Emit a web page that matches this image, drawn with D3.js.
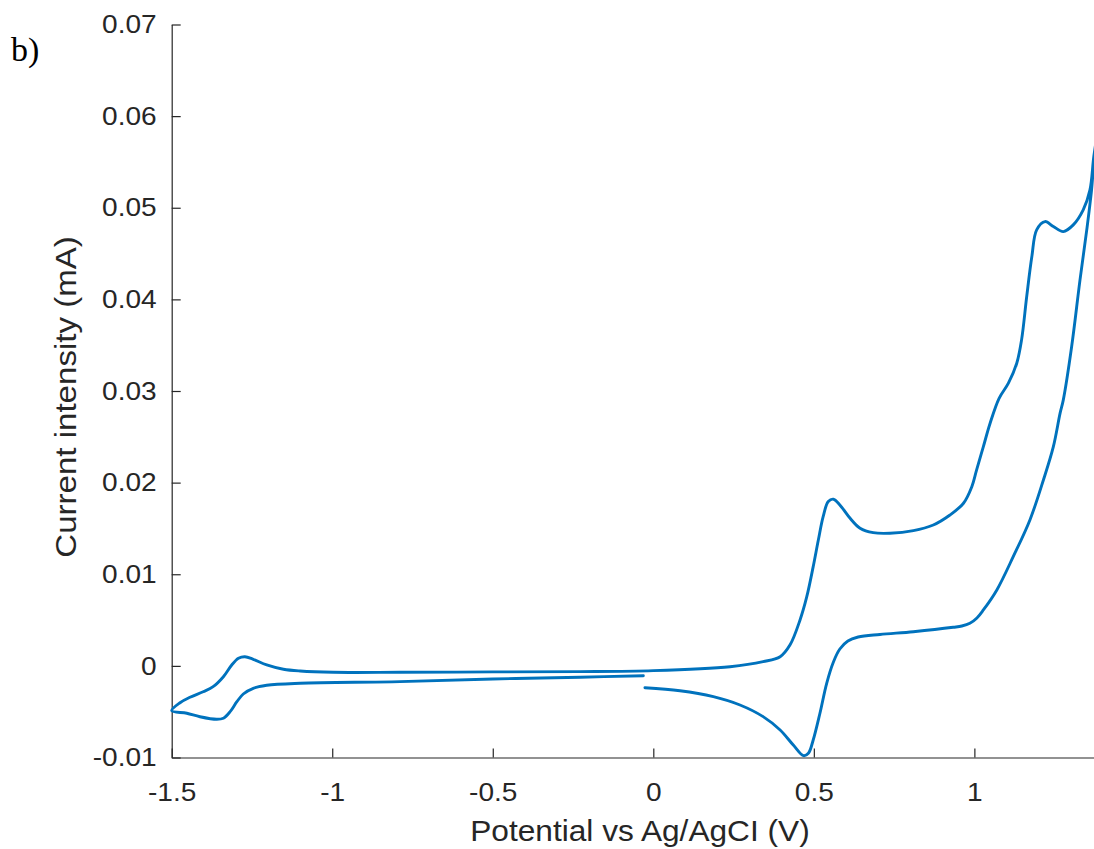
<!DOCTYPE html>
<html>
<head>
<meta charset="utf-8">
<script src="https://cdn.jsdelivr.net/npm/d3@7"></script>
<style>
  html, body { margin: 0; padding: 0; background: #ffffff; }
  svg { display: block; }
  .tick text { font-family: "Liberation Sans", Arial, Helvetica, sans-serif; }
</style>
</head>
<body>
<svg id="chart" width="1094" height="849"></svg>
<script>
// Cyclic voltammogram: potential (V vs Ag/AgCl) and current (mA),
// listed in scan order: start near 0 V, sweep negative to -1.5 V,
// back positive to the upper vertex, then negative again to ~0 V.
const potential = [
  -0.031, -0.228, -0.500, -0.789, -1.100, -1.204, -1.246, -1.277, -1.297,
  -1.318, -1.339, -1.360, -1.412, -1.453, -1.500,
  -1.474, -1.443, -1.402, -1.371, -1.339, -1.313, -1.292, -1.272, -1.246,
  -1.204, -1.152, -1.100, -0.997, -0.789, -0.500, -0.228, 0.000, 0.239,
  0.342, 0.395, 0.426, 0.457, 0.478, 0.498, 0.514, 0.529, 0.545, 0.561,
  0.581, 0.613, 0.644, 0.685, 0.737, 0.810, 0.872, 0.924, 0.966, 0.992,
  1.007, 1.028, 1.049, 1.077, 1.106, 1.132, 1.147, 1.163, 1.179, 1.194,
  1.220, 1.246, 1.277, 1.308, 1.339, 1.360, 1.372, 1.385,
  1.372, 1.365, 1.350, 1.329, 1.303, 1.277, 1.267, 1.246, 1.215, 1.173,
  1.121, 1.070, 1.028, 1.008, 0.986, 0.961, 0.934, 0.810, 0.706, 0.638,
  0.606, 0.581, 0.561, 0.540, 0.519, 0.498, 0.483, 0.468, 0.436, 0.395,
  0.342, 0.270, 0.187, 0.083, -0.026
];
const current = [
  -0.00107, -0.00124, -0.00143, -0.00172, -0.00190, -0.00212, -0.00245, -0.00307, -0.00391,
  -0.00500, -0.00572, -0.00583, -0.00555, -0.00517, -0.00489,
  -0.00402, -0.00343, -0.00282, -0.00227, -0.00118, 0.00010, 0.00083, 0.00100, 0.00072,
  0.00010, -0.00037, -0.00056, -0.00070, -0.00070, -0.00066, -0.00063, -0.00052, -0.00009,
  0.00046, 0.00100, 0.00230, 0.00501, 0.00755, 0.01083, 0.01374, 0.01629, 0.01793, 0.01819,
  0.01757, 0.01611, 0.01502, 0.01454, 0.01448, 0.01476, 0.01538, 0.01647, 0.01775, 0.01956,
  0.02139, 0.02393, 0.02648, 0.02920, 0.03085, 0.03303, 0.03558, 0.04031, 0.04467, 0.04759,
  0.04849, 0.04795, 0.04740, 0.04813, 0.04977, 0.05195, 0.05559, 0.05850,
  0.05489, 0.05195, 0.04758, 0.04213, 0.03485, 0.02903, 0.02758, 0.02393, 0.02029, 0.01593,
  0.01192, 0.00829, 0.00610, 0.00523, 0.00465, 0.00435, 0.00421, 0.00373, 0.00343, 0.00315,
  0.00272, 0.00184, 0.00043, -0.00190, -0.00517, -0.00809, -0.00954, -0.00980, -0.00864, -0.00700,
  -0.00554, -0.00427, -0.00336, -0.00271, -0.00238
];

const xTickValues = [-1.5, -1, -0.5, 0, 0.5, 1];
const xTickLabels = ["-1.5", "-1", "-0.5", "0", "0.5", "1"];
const yTickValues = [-0.01, 0, 0.01, 0.02, 0.03, 0.04, 0.05, 0.06, 0.07];
const yTickLabels = ["-0.01", "0", "0.01", "0.02", "0.03", "0.04", "0.05", "0.06", "0.07"];

const xLabel = "Potential vs Ag/AgCI (V)";
const yLabel = "Current intensity (mA)";
const panelLabel = "b)";

const svg = d3.select("#chart");
const axisColor = "#262626";
const lineColor = "#0072BD";
const sansFont = "'Liberation Sans', Arial, Helvetica, sans-serif";

const plotLeft = 171.7, plotBottom = 757.5, plotTop = 24.5;
const x = d3.scaleLinear().domain([-1.5, 1.4]).range([plotLeft, plotLeft + 2.9 * 321.07]);
const y = d3.scaleLinear().domain([-0.01, 0.07]).range([plotBottom, plotTop]);

// widen a text element horizontally by a factor, keeping its anchor
function widen(sel, k) {
  sel.each(function () {
    const w = this.getComputedTextLength();
    d3.select(this).attr("textLength", w * k).attr("lengthAdjust", "spacingAndGlyphs");
  });
}

// x axis (ticks pointing inward)
const gx = svg.append("g")
  .attr("transform", `translate(0,${plotBottom})`)
  .call(d3.axisBottom(x)
    .tickValues(xTickValues)
    .tickFormat((d, i) => xTickLabels[i])
    .tickSizeInner(-9)
    .tickSizeOuter(0)
    .tickPadding(25));

// y axis
const gy = svg.append("g")
  .attr("transform", `translate(${plotLeft},0)`)
  .call(d3.axisLeft(y)
    .tickValues(yTickValues)
    .tickFormat((d, i) => yTickLabels[i])
    .tickSizeInner(-9)
    .tickSizeOuter(0)
    .tickPadding(15));

[gx, gy].forEach(g => {
  g.select(".domain").attr("stroke", axisColor).attr("stroke-width", 1.2);
  g.selectAll(".tick line").attr("stroke", axisColor).attr("stroke-width", 1.2);
  g.selectAll(".tick text")
    .attr("fill", axisColor)
    .style("font-size", "25.5px")
    .call(widen, 1.1);
});

// voltammogram trace
const pts = potential.map((v, i) => [v, current[i]]);
svg.append("path")
  .datum(pts)
  .attr("fill", "none")
  .attr("stroke", lineColor)
  .attr("stroke-width", 2.9)
  .attr("stroke-linejoin", "round")
  .attr("stroke-linecap", "round")
  .attr("d", d3.line()
    .x(d => x(d[0]))
    .y(d => y(d[1]))
    .curve(d3.curveCatmullRom.alpha(0.5)));

// axis titles
svg.append("text")
  .attr("x", 640)
  .attr("y", 841)
  .attr("text-anchor", "middle")
  .attr("fill", axisColor)
  .style("font-family", sansFont)
  .style("font-size", "30px")
  .text(xLabel)
  .call(widen, 1.055);

svg.append("text")
  .attr("transform", "translate(76,397) rotate(-90)")
  .attr("text-anchor", "middle")
  .attr("fill", axisColor)
  .style("font-family", sansFont)
  .style("font-size", "29px")
  .text(yLabel)
  .call(widen, 1.14);

// panel tag
svg.append("text")
  .attr("x", 11)
  .attr("y", 61)
  .attr("fill", "#000000")
  .style("font-family", "'Liberation Serif', 'Times New Roman', serif")
  .style("font-size", "34px")
  .text(panelLabel);
</script>
</body>
</html>
